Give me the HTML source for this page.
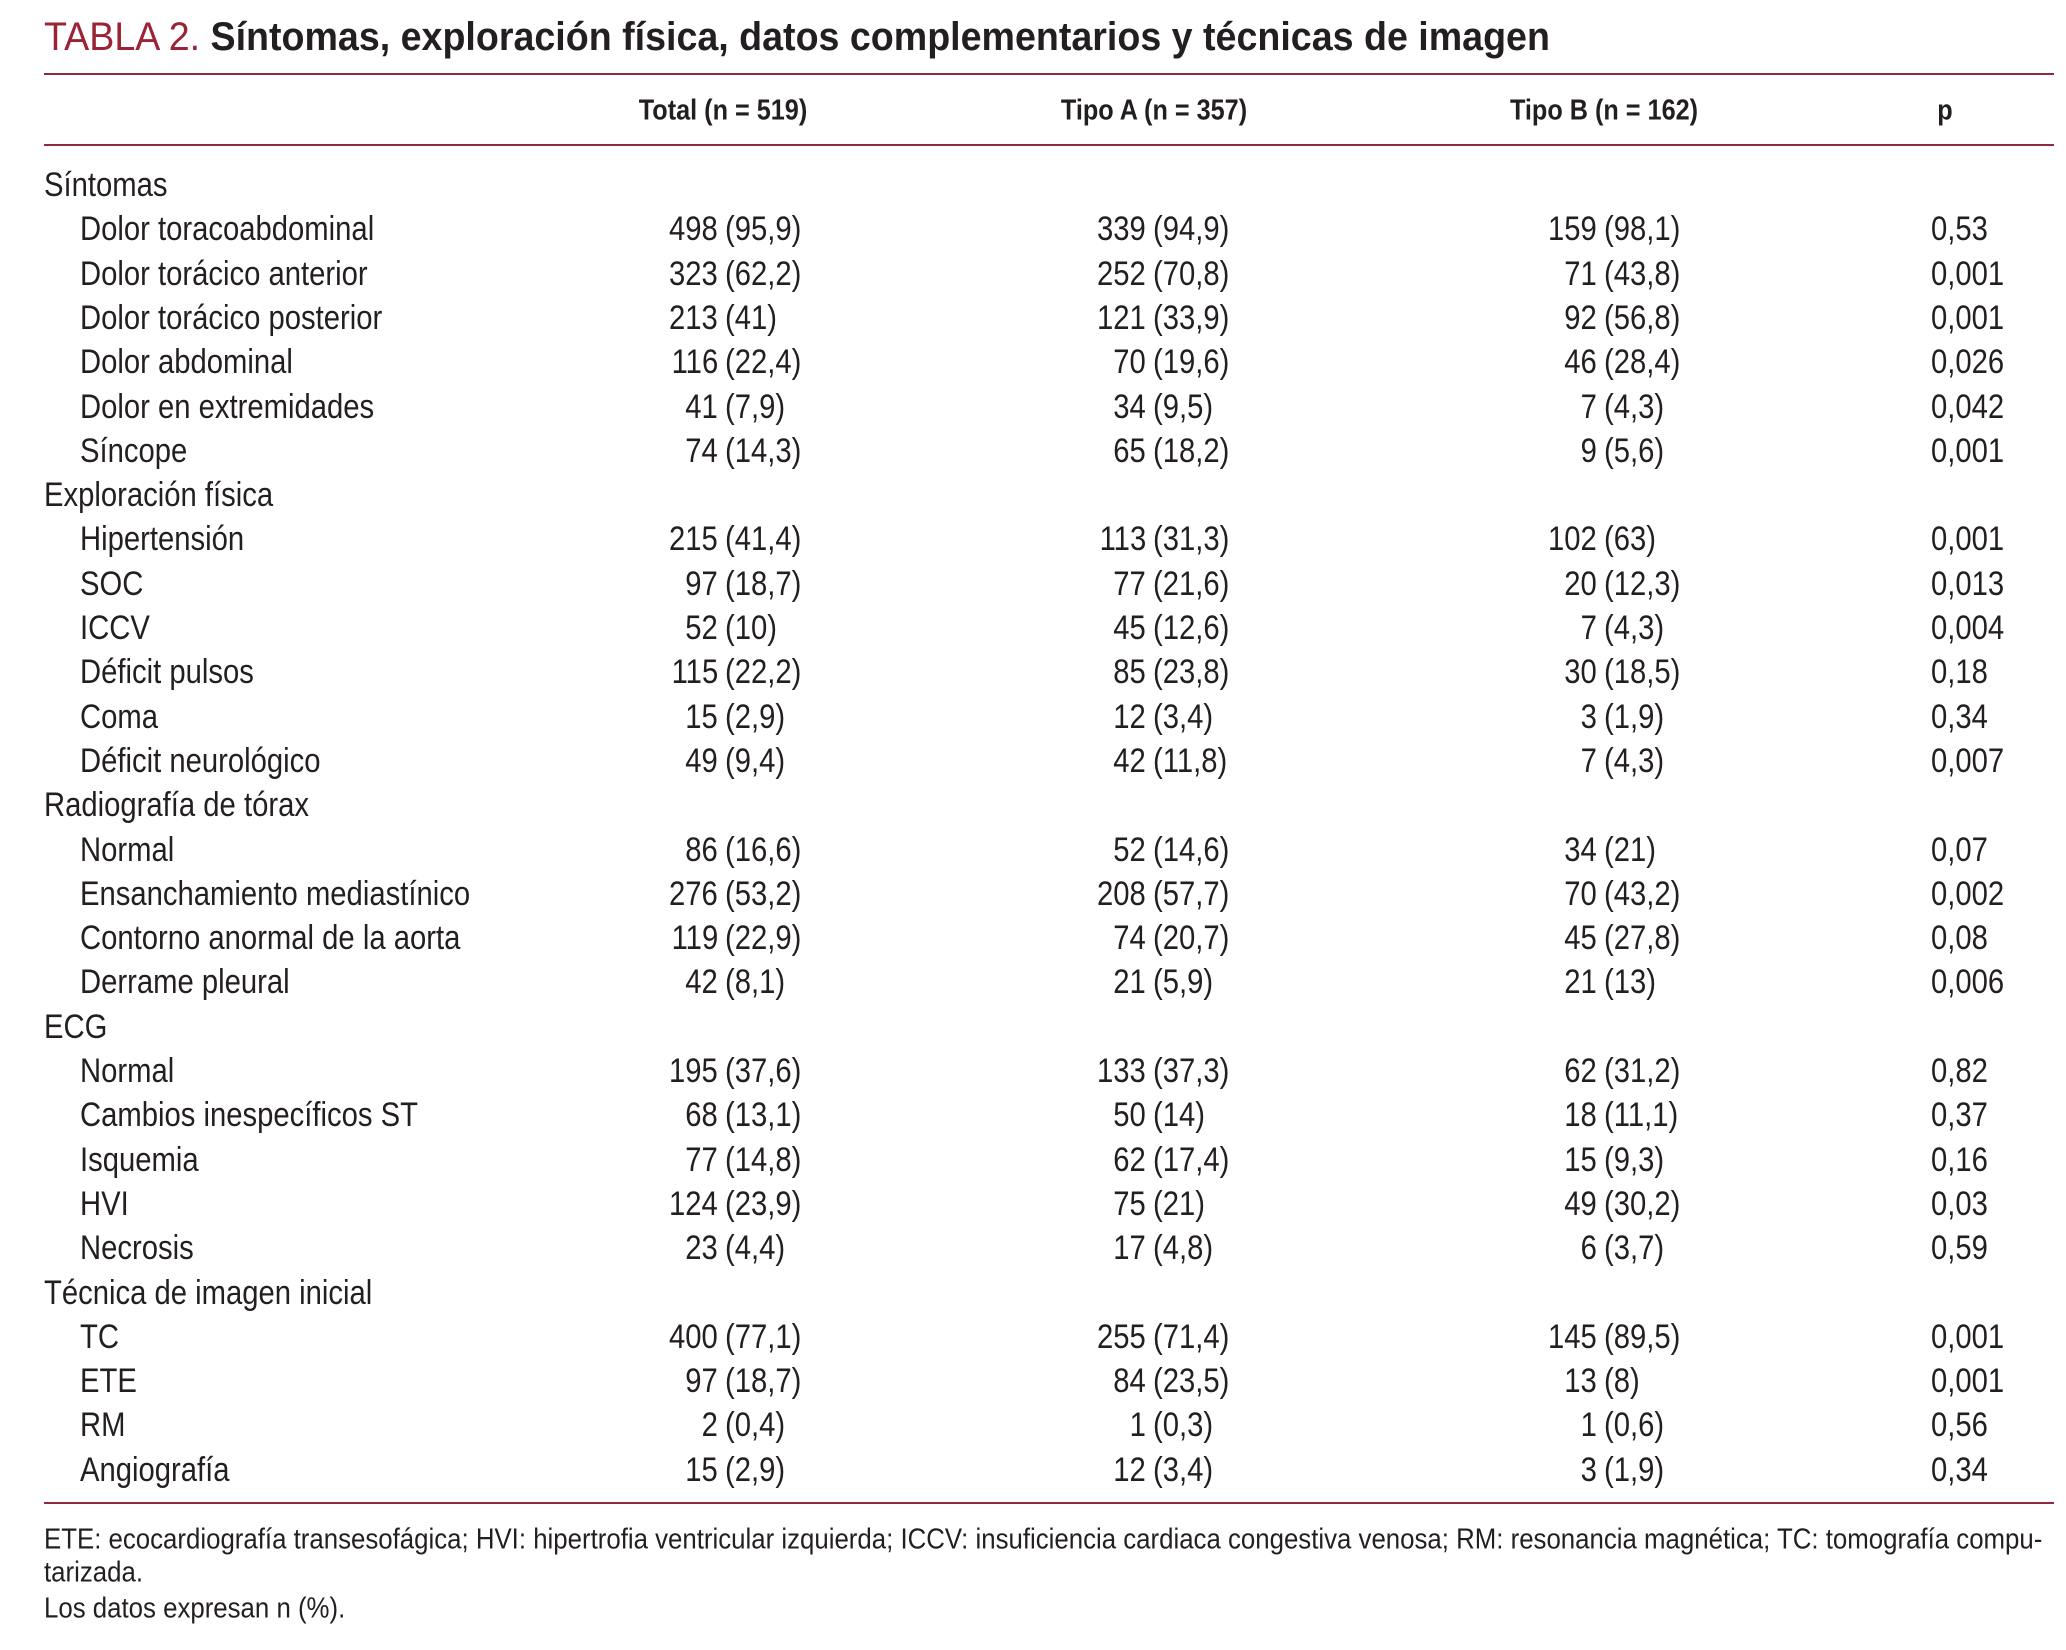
<!DOCTYPE html>
<html><head><meta charset="utf-8">
<style>
body{margin:0;width:2066px;height:1650px;background:#fff;position:relative;overflow:hidden;font-family:"Liberation Sans Narrow","Liberation Sans",sans-serif;color:#231f20}
.t{position:absolute;white-space:nowrap;font-size:34px;line-height:1;transform:translateY(-50%) scaleX(0.86);transform-origin:left center}
.r{transform-origin:right center}
.rule{position:absolute;left:44px;width:2010px;height:2px;background:#8e2b3c}
.h{font-weight:bold;font-size:29px;transform:translate(-50%,-50%) scaleX(0.87);transform-origin:center center}
.f{font-size:29px;transform:translateY(-50%) scaleX(0.89)}
</style></head><body>
<div class="t" style="left:44px;top:37px;font-size:40px;transform:translateY(-50%) scaleX(0.94)"><span style="color:#9b2335">TABLA 2.</span> <b>Síntomas, exploración física, datos complementarios y técnicas de imagen</b></div>
<div class="rule" style="top:73px"></div>
<div class="rule" style="top:144px"></div>
<div class="rule" style="top:1502px"></div>
<div class="t h" style="left:723px;top:111px">Total (n = 519)</div>
<div class="t h" style="left:1154px;top:111px">Tipo A (n = 357)</div>
<div class="t h" style="left:1604px;top:111px">Tipo B (n = 162)</div>
<div class="t h" style="left:1945px;top:111px">p</div>
<div class="t f" style="left:44px;top:1540px">ETE: ecocardiografía transesofágica; HVI: hipertrofia ventricular izquierda; ICCV: insuficiencia cardiaca congestiva venosa; RM: resonancia magnética; TC: tomografía compu-</div>
<div class="t f" style="left:44px;top:1573px">tarizada.</div>
<div class="t f" style="left:44px;top:1609px">Los datos expresan n (%).</div>
<script>
const rows=[
["Síntomas"],
["Dolor toracoabdominal","498 (95,9)","339 (94,9)","159 (98,1)","0,53"],
["Dolor torácico anterior","323 (62,2)","252 (70,8)","71 (43,8)","0,001"],
["Dolor torácico posterior","213 (41)","121 (33,9)","92 (56,8)","0,001"],
["Dolor abdominal","116 (22,4)","70 (19,6)","46 (28,4)","0,026"],
["Dolor en extremidades","41 (7,9)","34 (9,5)","7 (4,3)","0,042"],
["Síncope","74 (14,3)","65 (18,2)","9 (5,6)","0,001"],
["Exploración física"],
["Hipertensión","215 (41,4)","113 (31,3)","102 (63)","0,001"],
["SOC","97 (18,7)","77 (21,6)","20 (12,3)","0,013"],
["ICCV","52 (10)","45 (12,6)","7 (4,3)","0,004"],
["Déficit pulsos","115 (22,2)","85 (23,8)","30 (18,5)","0,18"],
["Coma","15 (2,9)","12 (3,4)","3 (1,9)","0,34"],
["Déficit neurológico","49 (9,4)","42 (11,8)","7 (4,3)","0,007"],
["Radiografía de tórax"],
["Normal","86 (16,6)","52 (14,6)","34 (21)","0,07"],
["Ensanchamiento mediastínico","276 (53,2)","208 (57,7)","70 (43,2)","0,002"],
["Contorno anormal de la aorta","119 (22,9)","74 (20,7)","45 (27,8)","0,08"],
["Derrame pleural","42 (8,1)","21 (5,9)","21 (13)","0,006"],
["ECG"],
["Normal","195 (37,6)","133 (37,3)","62 (31,2)","0,82"],
["Cambios inespecíficos ST","68 (13,1)","50 (14)","18 (11,1)","0,37"],
["Isquemia","77 (14,8)","62 (17,4)","15 (9,3)","0,16"],
["HVI","124 (23,9)","75 (21)","49 (30,2)","0,03"],
["Necrosis","23 (4,4)","17 (4,8)","6 (3,7)","0,59"],
["Técnica de imagen inicial"],
["TC","400 (77,1)","255 (71,4)","145 (89,5)","0,001"],
["ETE","97 (18,7)","84 (23,5)","13 (8)","0,001"],
["RM","2 (0,4)","1 (0,3)","1 (0,6)","0,56"],
["Angiografía","15 (2,9)","12 (3,4)","3 (1,9)","0,34"]];
const numEnd=[718,1146,1597];
function mk(txt,css,name,cls){const d=document.createElement('div');d.className='t'+(cls||'');d.textContent=txt;d.style.cssText=css;


document.body.appendChild(d);}
rows.forEach((r,i)=>{const y=185+i*44.3;
if(r.length===1){mk(r[0],`left:44px;top:${y}px`,'section-label');return;}
mk(r[0],`left:80px;top:${y}px`,'row-label');
for(let c=0;c<3;c++){const sp=r[c+1].indexOf(' ');
mk(r[c+1].slice(0,sp),`right:${2066-numEnd[c]}px;top:${y}px`,'cell-count',' r');
mk(r[c+1].slice(sp+1),`left:${numEnd[c]+7}px;top:${y}px`,'cell-percent');}
mk(r[4],`left:1931px;top:${y}px`,'cell-p');});
</script>
</body></html>
